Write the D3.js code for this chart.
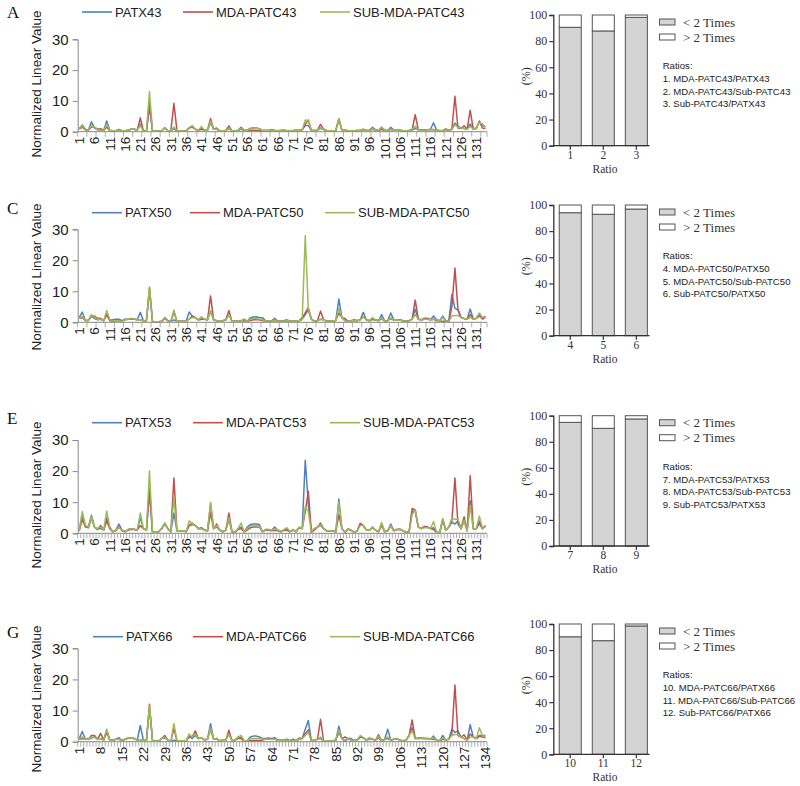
<!DOCTYPE html>
<html><head><meta charset="utf-8">
<script src="https://cdn.jsdelivr.net/npm/d3@7"></script>
<style>body{margin:0;background:#fff}svg{display:block}</style>
</head><body>
<svg id="c" width="800" height="786"></svg>
<script>
// ---------------- DATA ----------------
const categories = Array.from({length: 134}, (_, i) => i + 1);
const labelStep = [5, 5, 5, 7];
const seriesColors = ["#4f81bd", "#c0504d", "#9bbb59"];

const names43 = ["PATX43", "MDA-PATC43", "SUB-MDA-PATC43"];
const patx43 = [1.0,2.2,0.8,0.5,3.2,1.2,0.6,0.5,0.4,3.5, 0.5,0.3,0.3,0.7,0.3,0.3,0.5,0.8,0.8,0.5, 2.5,0.3,0.2,8.0,0.2,0.2,0.2,0.3,1.3,0.4, 0.3,1.0,0.2,0.2,0.2,0.3,1.3,1.7,0.8,0.5, 1.0,0.5,0.5,3.0,0.8,0.8,0.3,0.3,0.4,1.0, 0.3,0.3,0.5,1.4,0.5,0.5,1.1,1.2,1.2,1.0, 0.5,0.4,0.4,0.5,0.4,0.3,0.4,0.5,0.3,0.3, 0.4,0.5,0.4,0.6,2.0,2.0,0.5,0.4,0.5,1.0, 0.8,0.3,0.3,0.3,0.4,4.0,0.4,0.5,0.3,0.3, 0.3,0.4,0.5,0.7,0.4,0.5,1.4,0.6,0.4,1.3, 0.5,0.4,1.4,0.5,0.5,0.5,0.3,0.3,0.4,0.5, 1.0,0.6,0.5,0.5,0.6,0.8,2.9,0.5,0.4,0.3, 0.8,0.5,0.8,2.8,1.8,1.2,1.0,0.8,2.5,0.8, 1.2,3.0,2.2,1.5];
const mda43 = [0.8,1.5,0.6,0.5,1.5,1.5,0.8,1.0,0.4,1.5, 0.3,0.3,0.3,0.5,0.3,0.3,0.5,0.8,0.8,0.5, 4.5,0.3,0.2,9.5,0.2,0.2,0.2,0.3,1.2,0.4, 0.3,9.2,0.3,0.2,0.2,0.3,1.2,1.5,0.8,0.5, 0.8,0.5,0.5,4.3,0.8,1.2,0.3,0.3,0.4,1.9, 0.3,0.3,0.4,0.8,0.5,0.3,0.5,0.5,0.4,0.4, 0.3,0.4,0.4,0.6,0.4,0.3,0.4,0.5,0.3,0.3, 0.3,0.5,0.4,0.6,2.5,3.8,0.4,0.4,0.5,2.4, 0.8,0.3,0.3,0.3,0.4,4.2,0.4,0.5,0.3,0.3, 0.3,0.4,0.5,0.8,0.4,0.5,0.8,0.5,0.4,0.8, 0.4,0.4,0.7,0.5,0.5,0.5,0.3,0.3,0.4,0.7, 5.5,0.7,0.6,0.6,0.6,0.6,0.7,0.5,0.3,0.3, 0.8,0.5,0.8,11.5,1.2,1.0,1.9,0.8,7.0,0.8, 1.0,3.5,1.2,1.0];
const sub43 = [1.0,2.0,0.6,0.5,2.0,1.5,0.6,0.5,0.4,2.5, 0.4,0.3,0.3,0.5,0.3,0.3,0.5,0.8,0.8,0.5, 2.0,0.3,0.2,13.0,0.2,0.2,0.2,0.3,1.1,0.4, 0.3,1.5,0.3,0.2,0.2,0.3,1.3,2.0,0.8,0.5, 1.7,0.5,0.5,3.5,0.8,0.9,0.3,0.3,0.4,1.2, 0.3,0.3,0.4,1.0,0.5,0.4,1.0,1.1,1.1,0.9, 0.4,0.4,0.4,0.5,0.4,0.3,0.4,0.5,0.3,0.3, 0.3,0.5,0.4,0.6,3.8,3.5,0.4,0.4,0.5,1.3, 0.8,0.3,0.3,0.3,0.4,4.3,0.4,0.5,0.3,0.3, 0.3,0.4,0.5,0.6,0.4,0.5,1.0,0.5,0.4,1.6, 0.4,0.4,0.8,0.5,0.5,0.5,0.3,0.3,0.4,0.6, 1.8,0.6,0.5,0.5,0.6,0.7,0.6,0.5,0.3,0.3, 1.0,0.5,0.8,2.2,1.5,1.2,1.0,0.8,1.8,0.8, 1.2,3.0,2.5,1.5];

const names50 = ["PATX50", "MDA-PATC50", "SUB-MDA-PATC50"];
const patx50 = [1.5,3.3,0.6,0.6,2.0,1.2,0.8,1.0,0.5,2.5, 0.8,0.8,1.0,1.0,0.5,1.0,1.0,1.2,1.1,0.8, 3.2,0.5,0.5,10.5,0.2,0.2,0.2,0.3,1.5,0.5, 0.3,0.8,0.3,0.3,0.3,0.3,3.3,2.0,1.5,0.8, 1.0,1.0,0.8,3.5,0.8,0.5,0.3,0.5,0.8,2.5, 0.3,0.4,0.3,0.5,1.0,0.3,1.5,1.7,1.8,1.5, 1.5,0.5,0.4,0.5,1.3,0.3,0.4,0.5,0.8,0.4, 0.3,0.5,0.5,1.0,2.5,4.0,1.0,0.3,0.5,1.0, 0.8,0.4,0.4,0.5,0.6,7.5,1.5,0.5,0.3,0.5, 0.8,0.5,0.8,3.2,0.8,0.5,1.0,0.8,0.5,2.5, 0.5,0.6,3.0,0.7,0.7,0.7,0.5,0.4,0.5,1.0, 4.2,1.0,0.8,1.0,1.0,0.8,2.0,0.8,0.5,2.0, 0.5,0.3,9.0,4.5,4.0,1.5,1.2,1.0,4.3,1.0, 1.3,2.0,1.5,2.0];
const mda50 = [1.3,1.5,0.6,0.6,2.0,2.0,1.3,1.3,0.5,2.5, 0.5,0.3,0.5,0.5,0.3,0.8,1.0,1.1,1.0,0.8, 0.8,0.5,0.5,11.0,0.2,0.2,0.2,0.3,1.2,0.5, 0.3,3.3,0.3,0.3,0.3,0.3,1.0,2.0,1.5,0.8, 1.0,1.0,0.8,8.5,0.8,0.5,0.3,0.5,0.8,3.8, 0.3,0.4,0.3,0.5,0.5,0.3,0.6,0.8,0.8,0.8, 0.5,0.4,0.4,0.4,0.6,0.3,0.4,0.4,0.5,0.4, 0.3,0.5,0.5,1.5,3.0,4.7,1.0,0.3,0.5,3.6, 0.8,0.4,0.4,0.5,0.6,3.0,1.5,1.2,0.3,0.5, 0.6,0.5,0.8,1.8,0.8,0.5,1.0,0.7,0.5,1.2, 0.4,0.5,1.2,0.7,0.7,0.8,0.5,0.4,0.5,1.0, 7.2,1.0,0.8,1.3,1.3,0.8,1.0,0.5,0.5,0.3, 0.5,0.3,5.0,17.5,4.0,1.5,1.2,1.0,2.5,1.0, 1.3,2.5,1.0,1.5];
const sub50 = [1.5,1.8,0.6,0.6,2.5,1.5,1.0,1.0,0.5,3.8, 0.8,0.5,0.5,0.5,0.3,0.8,1.0,1.2,1.1,0.8, 0.8,0.5,0.5,11.5,0.2,0.2,0.2,0.3,1.3,0.5, 0.3,4.0,0.3,0.3,0.3,0.3,1.0,1.5,1.5,0.8, 1.8,1.0,0.8,3.8,0.8,0.5,0.3,0.5,0.8,2.5, 0.3,0.4,0.3,0.5,1.0,0.3,1.0,1.2,1.2,1.0, 0.8,0.4,0.4,0.4,0.6,0.3,0.4,0.4,0.5,0.4, 0.3,0.5,0.5,0.8,28.0,4.2,1.0,0.3,0.5,1.0, 0.8,0.4,0.4,0.5,0.6,4.5,1.5,0.5,0.3,0.5, 0.6,0.5,0.8,1.8,0.8,0.5,1.5,0.7,0.5,1.5, 0.4,0.5,1.5,0.7,0.7,0.7,0.5,0.4,0.5,1.0, 2.5,1.0,0.8,1.0,1.0,0.8,1.0,0.8,0.5,1.5, 0.5,0.3,2.0,2.2,2.2,1.5,1.2,1.0,1.5,1.0, 1.3,3.0,1.5,1.8];

const names53 = ["PATX53", "MDA-PATC53", "SUB-MDA-PATC53"];
const patx53 = [1.0,6.0,2.5,2.0,5.8,2.0,1.5,1.5,1.0,5.0, 2.0,0.5,1.0,3.0,1.0,0.5,1.2,1.5,1.3,1.0, 5.0,1.5,1.0,13.0,0.3,0.3,0.5,1.5,3.0,1.5, 0.5,6.5,0.8,0.8,0.8,0.5,2.5,2.8,2.5,1.5, 1.5,1.0,0.8,9.5,1.5,2.0,1.0,0.5,1.0,4.5, 0.5,0.3,1.5,2.0,0.5,2.0,2.8,3.0,3.0,2.8, 0.5,1.2,1.2,1.0,2.0,1.0,0.5,1.0,1.3,0.5, 1.2,0.5,2.0,1.5,23.5,9.5,0.5,1.5,2.0,2.5, 1.5,0.8,0.8,0.8,0.5,11.0,1.5,0.3,1.5,1.0, 0.3,0.8,3.0,2.5,1.0,1.0,2.0,1.0,0.5,3.0, 0.5,0.8,3.0,0.8,1.2,1.3,0.8,0.3,0.5,7.0, 7.2,2.0,1.5,2.0,2.0,1.5,1.8,0.3,0.2,4.2, 1.0,2.0,3.5,3.0,4.0,1.5,4.0,0.8,10.5,1.5, 1.5,4.0,1.5,2.5];
const mda53 = [0.8,4.5,2.0,1.8,5.0,2.0,1.2,2.5,1.0,4.0, 1.5,0.5,0.8,2.0,0.8,0.5,1.0,1.3,1.2,1.0, 2.5,1.5,1.0,14.5,0.3,0.3,0.5,1.5,3.3,1.5, 0.5,17.8,0.8,0.8,0.8,0.5,2.5,3.3,2.5,1.5, 1.8,1.0,0.8,6.5,1.5,3.0,1.0,0.5,1.0,6.5, 0.5,0.3,1.2,1.5,0.5,1.0,1.8,2.0,2.0,2.0, 0.5,1.0,1.0,0.8,1.0,0.8,0.5,1.0,1.0,0.5, 1.0,0.5,1.8,1.5,7.0,13.5,0.3,1.0,2.0,3.3, 1.5,0.8,0.8,0.8,0.5,6.0,1.5,0.3,1.3,1.0, 0.3,0.8,3.2,2.5,1.0,1.0,1.8,1.0,0.5,2.5, 0.5,0.8,2.5,0.8,1.2,1.3,0.8,0.3,0.5,8.0, 7.5,2.0,1.5,2.2,2.0,1.5,1.2,0.3,0.2,4.5, 1.0,2.0,4.0,17.8,3.0,1.5,5.3,0.8,18.5,1.5, 1.5,3.2,1.5,2.2];
const sub53 = [1.0,7.0,2.5,2.0,5.5,2.0,1.5,2.0,1.0,7.2, 2.0,0.5,1.0,1.8,1.0,0.5,1.2,1.5,1.3,1.0, 6.5,1.5,1.0,20.0,0.3,0.3,0.5,1.5,3.3,1.5, 0.5,11.5,0.8,0.8,0.8,0.5,4.0,3.0,2.5,1.5, 1.5,1.0,0.8,10.0,1.5,2.5,1.0,0.5,1.0,5.0, 0.5,0.3,1.5,3.3,0.5,1.5,2.3,2.5,2.5,2.3, 0.5,1.2,1.2,1.0,1.5,1.0,0.5,1.2,1.8,0.5, 1.2,0.5,2.0,1.5,8.5,7.0,0.5,1.5,2.0,2.8, 1.5,0.8,0.8,0.8,0.5,10.0,1.5,0.3,1.5,1.0, 0.3,0.8,2.5,2.5,1.0,1.0,2.0,1.0,0.5,3.5, 0.5,0.8,2.5,0.8,1.2,1.3,0.8,0.3,0.5,6.0, 7.5,2.0,1.5,1.8,1.8,1.5,3.8,0.3,0.2,4.8, 1.0,2.0,5.0,4.5,4.5,1.5,4.2,0.8,9.0,1.5, 1.5,5.5,1.5,2.5];

const names66 = ["PATX66", "MDA-PATC66", "SUB-MDA-PATC66"];
const patx66 = [1.0,3.3,0.8,0.8,1.2,1.5,0.8,1.0,0.5,3.8, 0.5,0.5,0.8,1.3,0.3,0.8,1.2,1.2,1.0,0.5, 5.2,0.5,0.3,11.0,0.2,0.2,0.2,1.0,1.2,0.5, 0.2,0.5,0.3,0.3,0.3,0.3,1.8,1.0,2.0,1.0, 1.2,0.6,0.8,5.8,0.8,1.0,0.3,0.5,0.5,2.5, 0.3,0.5,1.5,1.5,0.3,0.3,1.5,1.8,1.8,1.5, 1.0,1.0,1.2,1.0,1.3,0.5,0.5,0.5,0.8,0.3, 0.8,0.3,0.8,1.0,4.0,6.8,0.3,0.5,0.8,1.0, 0.3,0.3,0.3,0.3,0.5,5.0,1.0,0.2,1.0,1.0, 0.5,0.5,1.5,1.3,0.5,1.2,0.8,0.5,2.3,0.3, 0.8,4.0,0.5,0.8,1.0,0.5,0.3,0.5,2.0,4.5, 1.0,1.2,1.2,1.0,1.0,0.8,1.8,0.5,0.3,2.0, 0.5,0.8,4.0,3.0,3.5,1.5,1.0,0.5,5.5,1.5, 1.0,2.0,2.0,2.0];
const mda66 = [0.8,1.0,0.8,0.8,2.0,2.0,0.8,2.7,0.5,3.0, 0.5,0.5,0.8,0.8,0.3,0.8,1.1,1.1,1.0,0.5, 0.5,0.5,0.3,12.0,0.2,0.2,0.2,1.0,2.0,0.5, 0.2,4.2,0.3,0.3,0.3,0.3,1.5,1.5,3.5,1.0, 1.2,0.6,0.8,4.0,0.8,1.0,0.3,0.5,0.5,3.7, 0.3,0.5,1.0,1.0,0.3,0.3,0.4,0.4,0.4,0.4, 0.5,0.8,0.8,0.8,0.8,0.5,0.5,0.5,0.5,0.3, 0.5,0.3,1.2,1.0,2.5,3.8,0.3,0.5,0.8,7.2, 0.3,0.3,0.3,0.3,0.5,3.0,1.0,1.5,1.0,0.5, 0.5,0.5,1.5,1.3,0.5,0.8,0.8,0.5,1.2,0.3, 0.8,1.0,0.5,0.8,1.0,0.5,0.3,0.5,2.0,7.0, 1.0,1.0,1.0,1.0,1.0,0.8,0.8,0.5,0.3,0.8, 0.5,0.8,2.5,18.2,2.0,1.5,2.2,0.5,2.5,1.5, 1.0,1.8,1.5,1.3];
const sub66 = [1.0,1.5,0.8,0.8,1.5,1.5,0.8,1.0,0.5,4.0, 0.5,0.5,0.8,0.8,0.3,0.8,1.2,1.2,1.0,0.5, 0.5,0.5,0.3,11.5,0.2,0.2,0.2,1.0,1.5,0.5, 0.2,5.8,0.3,0.3,0.3,0.3,2.5,1.5,2.5,1.0, 1.2,0.6,0.8,4.5,0.8,1.0,0.3,0.5,0.5,2.5, 0.3,0.5,1.5,2.0,0.3,0.3,1.0,1.0,1.0,1.0, 0.8,0.8,0.8,0.8,0.8,0.5,0.5,0.5,0.5,0.3, 0.5,0.3,0.8,1.0,2.0,3.0,0.3,0.5,0.8,1.5, 0.3,0.3,0.3,0.3,0.5,3.8,1.0,0.5,1.0,0.5, 0.5,0.5,2.0,1.3,0.5,1.0,0.8,0.5,1.8,0.3, 0.8,1.5,0.5,0.8,1.0,0.5,0.3,0.5,2.0,3.5, 1.0,1.0,1.0,1.0,1.0,0.8,1.2,0.5,0.3,1.3, 0.5,0.8,2.0,2.3,2.3,1.5,1.0,0.5,1.5,1.5, 1.0,4.5,2.0,1.5];

const yTicksLine = [0, 10, 20, 30];
const yTicksBar = [0, 20, 40, 60, 80, 100];
const barLegend = ["< 2 Times", "> 2 Times"];

const ratioIds = [["1","2","3"], ["4","5","6"], ["7","8","9"], ["10","11","12"]];
const below2 = [[90.6, 87.8, 98.2], [94.1, 92.9, 96.9], [94.9, 90.3, 97.5], [90.2, 87.2, 98.5]];
const ratioNotes = [
  ["1. MDA-PATC43/PATX43", "2. MDA-PATC43/Sub-PATC43", "3. Sub-PATC43/PATX43"],
  ["4. MDA-PATC50/PATX50", "5. MDA-PATC50/Sub-PATC50", "6. Sub-PATC50/PATX50"],
  ["7. MDA-PATC53/PATX53", "8. MDA-PATC53/Sub-PATC53", "9. Sub-PATC53/PATX53"],
  ["10. MDA-PATC66/PATX66", "11. MDA-PATC66/Sub-PATC66", "12. Sub-PATC66/PATX66"]
];
const panelLetters = ["A", "C", "E", "G"];
const seriesNames = [names43, names50, names53, names66];
const seriesData = [[patx43, mda43, sub43], [patx50, mda50, sub50], [patx53, mda53, sub53], [patx66, mda66, sub66]];

// ---------------- LAYOUT ----------------
const L = [
  {letterY: 18, legY: 12, legX: [82, 183, 320], top: 39.3, bottom: 131.7, titleY: 84, tickEvery: 3,
   bTop: 15, bBottom: 145.7},
  {letterY: 214, legY: 212.7, legX: [92, 190, 325], top: 229.3, bottom: 322.3, titleY: 277, tickEvery: 3,
   bTop: 205, bBottom: 335.7},
  {letterY: 424, legY: 422.7, legX: [92, 193, 330], top: 440, bottom: 533.3, titleY: 495, tickEvery: 1,
   bTop: 415.7, bBottom: 546},
  {letterY: 638, legY: 636.7, legX: [93, 193, 330], top: 648.3, bottom: 741.7, titleY: 699, tickEvery: 1,
   bTop: 624, bBottom: 754.3}
];
const X0 = 77.7, X1 = 487;
const sans = "'Liberation Sans', Arial, sans-serif";
const serif = "'Liberation Serif', 'Times New Roman', serif";

const svg = d3.select("#c");

L.forEach((p, k) => {
  const g = svg.append("g");
  g.append("text").attr("x", 7).attr("y", p.letterY).attr("font-family", serif)
    .attr("font-size", 17).attr("fill", "#111").text(panelLetters[k]);

  const x = d3.scaleBand().domain(categories).range([X0, X1]).padding(0);
  const y = d3.scaleLinear().domain([0, 30]).range([p.bottom, p.top]);

  seriesNames[k].forEach((nm, s) => {
    g.append("line").attr("x1", p.legX[s]).attr("x2", p.legX[s] + 30)
      .attr("y1", p.legY).attr("y2", p.legY)
      .attr("stroke", seriesColors[s]).attr("stroke-width", 1.6);
    g.append("text").attr("x", p.legX[s] + 33).attr("y", p.legY).attr("dy", "0.36em")
      .attr("font-family", sans).attr("font-size", 13).attr("fill", "#222").text(nm);
  });

  const ya = g.append("g").attr("transform", `translate(${X0},0)`)
    .call(d3.axisLeft(y).tickValues(yTicksLine).tickSize(5).tickPadding(4));
  ya.select(".domain").attr("stroke", "#888").attr("stroke-width", 1);
  ya.selectAll(".tick line").attr("stroke", "#888");
  ya.selectAll(".tick text").attr("font-family", sans).attr("font-size", 15).attr("fill", "#222");

  g.append("text").attr("transform", `translate(36,${p.titleY}) rotate(-90)`)
    .attr("text-anchor", "middle").attr("dy", "0.35em")
    .attr("font-family", sans).attr("font-size", 13.5).attr("fill", "#222")
    .text("Normalized Linear Value");

  g.append("line").attr("x1", X0).attr("x2", X1).attr("y1", p.bottom).attr("y2", p.bottom)
    .attr("stroke", "#888").attr("stroke-width", 1);
  const bounds = categories.filter((c, i) => i % p.tickEvery === 0).map(c => x(c)).concat([X1]);
  g.selectAll(".bt").data(bounds).enter().append("line")
    .attr("x1", d => d).attr("x2", d => d).attr("y1", p.bottom).attr("y2", p.bottom + 5)
    .attr("stroke", "#999").attr("stroke-width", 0.8);

  const labs = categories.filter((c, i) => i % labelStep[k] === 0);
  g.selectAll(".xl").data(labs).enter().append("text")
    .attr("transform", d => `translate(${x(d) + x.bandwidth() / 2},${p.bottom + 5}) rotate(-90)`)
    .attr("text-anchor", "end").attr("dy", "0.36em")
    .attr("font-family", sans).attr("font-size", 13.5).attr("fill", "#222").text(d => d);

  const line = d3.line().x((d, i) => x(categories[i]) + x.bandwidth() / 2).y(d => y(d));
  seriesData[k].forEach((arr, s) => {
    g.append("path").datum(arr).attr("d", line).attr("fill", "none")
      .attr("stroke", seriesColors[s]).attr("stroke-width", 1.5).attr("stroke-linejoin", "round");
  });

  // ---------- bar chart ----------
  const bx = d3.scaleBand().domain(ratioIds[k]).range([553.3, 653.3]).paddingInner(1 / 3).paddingOuter(0.18);
  const by = d3.scaleLinear().domain([0, 100]).range([p.bBottom, p.bTop]);
  const bg = svg.append("g");
  ratioIds[k].forEach((r, j) => {
    const v = below2[k][j];
    bg.append("rect").attr("x", bx(r)).attr("width", bx.bandwidth())
      .attr("y", by(v)).attr("height", by(0) - by(v))
      .attr("fill", "#d4d4d4").attr("stroke", "#555").attr("stroke-width", 1);
    bg.append("rect").attr("x", bx(r)).attr("width", bx.bandwidth())
      .attr("y", by(100)).attr("height", by(v) - by(100))
      .attr("fill", "#fff").attr("stroke", "#555").attr("stroke-width", 1);
  });
  const bya = bg.append("g").attr("transform", `translate(553.3,0)`)
    .call(d3.axisLeft(by).tickValues(yTicksBar).tickSize(4).tickPadding(2));
  bya.select(".domain").attr("stroke", "#333").attr("stroke-width", 1.3);
  bya.selectAll(".tick line").attr("stroke", "#333").attr("stroke-width", 1.2);
  bya.selectAll(".tick text").attr("font-family", serif).attr("font-size", 12).attr("fill", "#333");

  const bxa = bg.append("g").attr("transform", `translate(0,${p.bBottom})`)
    .call(d3.axisBottom(bx).tickSize(4).tickPadding(1));
  bxa.select(".domain").remove();
  bxa.selectAll(".tick line").attr("stroke", "#333").attr("stroke-width", 1.2);
  bxa.selectAll(".tick text").attr("font-family", serif).attr("font-size", 11.5).attr("fill", "#333");
  bg.append("line").attr("x1", 553.3).attr("x2", 649.5).attr("y1", p.bBottom).attr("y2", p.bBottom)
    .attr("stroke", "#333").attr("stroke-width", 1.3);

  bg.append("text").attr("x", 605).attr("y", p.bBottom + 23).attr("dy", "0.35em")
    .attr("text-anchor", "middle").attr("font-family", serif).attr("font-size", 11.5)
    .attr("fill", "#333").text("Ratio");
  bg.append("text").attr("transform", `translate(526,${(p.bTop + p.bBottom) / 2 - 4}) rotate(-90)`)
    .attr("text-anchor", "middle").attr("dy", "0.35em").attr("font-family", serif)
    .attr("font-size", 12).attr("fill", "#333").text("(%)");

  barLegend.forEach((t, j) => {
    const ly = p.bTop + 7 + j * 15;
    bg.append("rect").attr("x", 659.5).attr("y", ly - 3).attr("width", 15.5).attr("height", 6)
      .attr("fill", j === 0 ? "#d4d4d4" : "#fff").attr("stroke", "#555").attr("stroke-width", 1);
    bg.append("text").attr("x", 683).attr("y", ly).attr("dy", "0.35em")
      .attr("font-family", serif).attr("font-size", 13).attr("fill", "#333").text(t);
  });
  bg.append("text").attr("x", 662.7).attr("y", p.bTop + 50.5).attr("dy", "0.35em")
    .attr("font-family", sans).attr("font-size", 9.6).attr("fill", "#222").text("Ratios:");
  ratioNotes[k].forEach((t, j) => {
    bg.append("text").attr("x", 662.7).attr("y", p.bTop + 63.5 + j * 12.8).attr("dy", "0.35em")
      .attr("font-family", sans).attr("font-size", 9.6).attr("fill", "#222").text(t);
  });
});
</script>
</body></html>
